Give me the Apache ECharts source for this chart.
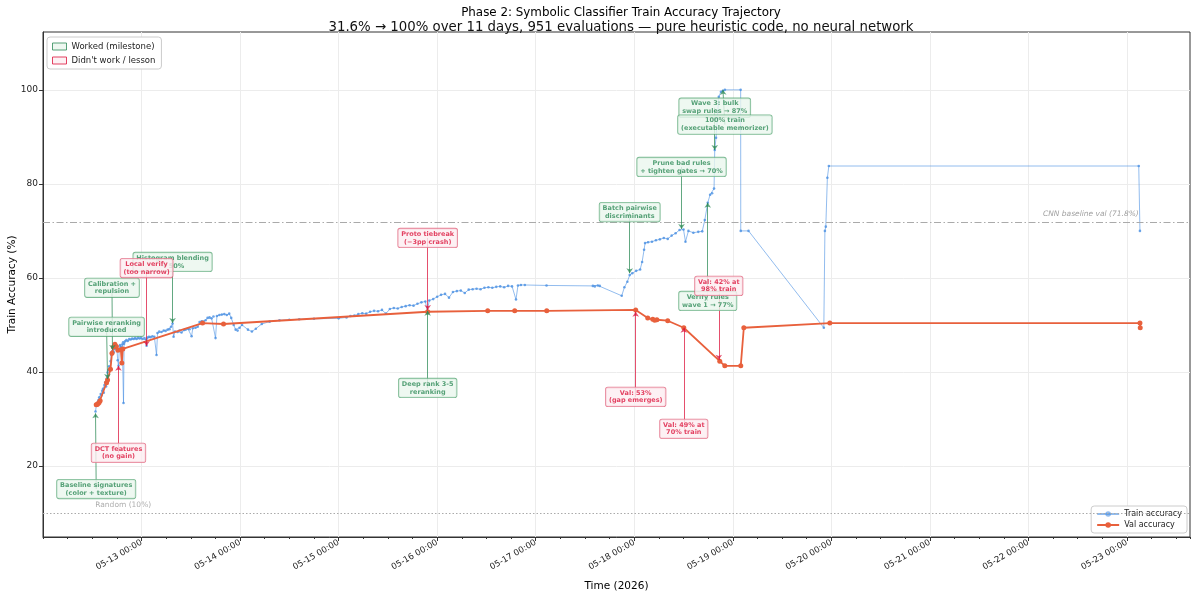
<!DOCTYPE html>
<html>
<head>
<meta charset="utf-8">
<script src="https://cdn.jsdelivr.net/npm/echarts@6/dist/echarts.min.js"></script>
<style>
html, body { margin: 0; padding: 0; background: #fff; }
#chart { width: 1200px; height: 596px; }
</style>
</head>
<body>
<div id="chart"></div>
<script>
// times are decimal days of May 2026 (UTC): 12.5 = 05-12 12:00
const trainPoints = [
  [12.533,31.6],[12.541,32.9],[12.548,33.4],[12.556,33.2],[12.563,34.0],[12.571,34.6],[12.578,34.2],[12.586,35.3],
  [12.594,35.0],[12.601,36.0],[12.609,36.4],[12.617,35.6],[12.624,37.2],[12.632,37.8],[12.640,36.9],[12.648,38.6],
  [12.655,39.9],[12.663,40.4],[12.671,41.2],[12.679,40.6],[12.686,42.3],[12.694,43.6],[12.702,44.4],[12.710,45.1],
  [12.718,44.2],[12.726,45.4],[12.734,44.9],[12.742,45.6],[12.750,45.0],[12.758,42.5],[12.766,41.3],[12.774,44.8],
  [12.782,45.7],[12.790,45.3],[12.797,44.6],[12.805,45.9],[12.813,46.3],[12.817,33.4],[12.823,46.0],[12.832,46.5],
  [12.846,46.8],[12.860,46.6],[12.875,47.0],[12.890,46.9],[12.905,47.1],[12.920,47.0],[12.935,47.2],[12.950,47.0],
  [12.965,47.3],[12.980,47.1],[12.995,47.3],[13.010,47.0],[13.030,47.2],[13.045,46.9],[13.051,45.6],[13.060,47.3],
  [13.075,47.5],[13.090,47.4],[13.110,47.6],[13.130,47.5],[13.152,43.6],[13.162,48.3],[13.180,48.6],[13.203,48.5],
  [13.225,48.8],[13.244,48.7],[13.265,49.0],[13.284,49.1],[13.300,49.6],[13.315,50.3],[13.325,47.5],[13.340,48.6],
  [13.365,48.5],[13.385,48.8],[13.406,48.4],[13.430,48.9],[13.447,49.0],[13.470,49.2],[13.487,49.1],[13.508,47.6],
  [13.520,49.3],[13.548,49.4],[13.570,49.6],[13.589,50.6],[13.610,50.8],[13.630,50.6],[13.650,51.0],[13.670,51.5],
  [13.690,51.6],[13.711,51.4],[13.730,51.8],[13.751,47.2],[13.765,51.9],[13.790,52.1],[13.815,52.2],[13.840,52.3],
  [13.865,52.1],[13.890,52.4],[13.910,51.5],[13.935,50.0],[13.955,49.0],[13.975,48.8],[13.995,49.4],[14.020,50.0],
  [14.080,49.0],[14.120,48.6],[14.160,49.2],[14.220,50.2],[14.300,50.7],[14.400,51.0],[14.500,51.1],[14.600,51.2],
  [14.750,51.3],[15.000,51.4],[15.080,51.6],[15.120,51.9],[15.160,52.0],[15.200,52.3],[15.240,52.5],[15.280,52.4],
  [15.320,52.8],[15.360,53.0],[15.400,52.9],[15.440,53.2],[15.480,52.4],[15.520,53.4],[15.560,53.6],[15.600,53.5],
  [15.640,53.8],[15.680,54.0],[15.720,54.2],[15.760,54.1],[15.800,54.5],[15.840,54.8],[15.880,55.0],[15.900,53.0],
  [15.920,55.2],[15.960,55.5],[16.000,56.0],[16.040,56.4],[16.080,56.6],[16.120,55.8],[16.160,57.0],[16.200,57.2],
  [16.240,57.3],[16.280,56.8],[16.320,57.5],[16.360,57.6],[16.400,57.7],[16.440,57.6],[16.480,57.9],[16.520,58.0],
  [16.560,57.9],[16.600,58.1],[16.640,58.2],[16.680,58.0],[16.720,58.3],[16.760,58.2],[16.800,55.4],[16.820,58.4],
  [16.850,58.5],[16.890,58.5],[17.110,58.4],[17.580,58.3],[17.600,58.2],[17.630,58.4],[17.650,58.3],[17.873,56.2],
  [17.900,58.0],[17.930,59.2],[17.954,60.6],[17.980,61.0],[18.020,61.5],[18.060,61.8],[18.080,63.4],[18.100,66.0],
  [18.110,67.4],[18.140,67.6],[18.180,67.7],[18.220,68.0],[18.260,68.2],[18.300,68.5],[18.340,68.3],[18.380,69.0],
  [18.420,69.5],[18.460,70.2],[18.500,70.3],[18.520,67.7],[18.550,70.0],[18.600,69.6],[18.650,69.8],[18.690,69.9],
  [18.716,72.3],[18.746,76.0],[18.770,77.7],[18.790,78.0],[18.810,79.0],[18.817,87.2],[18.830,89.8],[18.858,98.5],
  [18.880,99.6],[18.900,99.8],[18.920,100.0],[19.080,100.0],[19.081,70.0],[19.160,70.0],[19.924,49.4],[19.935,70.0],
  [19.944,70.9],[19.960,81.3],[19.975,83.8],[23.120,83.8],[23.132,70.0]
];

const valPoints = [
  [12.540,33.0],[12.550,33.1],[12.560,33.3],[12.570,33.5],[12.580,33.9],[12.645,37.7],[12.655,38.3],[12.685,40.6],
  [12.700,44.0],[12.715,45.3],[12.730,45.9],[12.745,45.4],[12.760,44.6],[12.790,44.7],[12.800,41.9],[12.810,44.9],
  [13.619,50.4],[13.832,50.2],[15.904,52.8],[16.513,53.0],[16.787,53.0],[17.112,53.0],[18.015,53.2],[18.137,51.5],
  [18.188,51.2],[18.208,51.0],[18.230,51.1],[18.340,50.9],[18.503,49.4],[18.868,42.3],[18.919,41.3],[19.081,41.3],
  [19.112,49.4],[19.985,50.4],[23.132,50.4],[23.135,49.4]
];

// [text, box day, box value, arrow day, arrow value, kind]
const notes = [
  ['Baseline signatures\n(color + texture)', 12.54, 15.1, 12.533, 31.2, 'ok'],
  ['Pairwise reranking\nintroduced', 12.645, 49.6, 12.655, 38.5, 'ok'],
  ['Calibration +\nrepulsion', 12.70, 57.9, 12.705, 44.7, 'ok'],
  ['Histogram blending\n→ 50%', 13.315, 63.4, 13.315, 50.4, 'ok'],
  ['Deep rank 3-5\nreranking', 15.904, 36.6, 15.904, 53.0, 'ok'],
  ['Batch pairwise\ndiscriminants', 17.954, 74.0, 17.954, 61.0, 'ok'],
  ['Prune bad rules\n+ tighten gates → 70%', 18.48, 83.6, 18.48, 70.4, 'ok'],
  ['Verify rules\nwave 1 → 77%', 18.746, 55.1, 18.746, 76.0, 'ok'],
  ['Wave 3: bulk\nswap rules → 87%', 18.817, 96.2, 18.817, 87.2, 'ok'],
  ['100% train\n(executable memorizer)', 18.92, 92.6, 18.90, 100.0, 'ok'],
  ['DCT features\n(no gain)', 12.766, 22.8, 12.766, 41.3, 'bad'],
  ['Local verify\n(too narrow)', 13.051, 62.1, 13.051, 45.5, 'bad'],
  ['Proto tiebreak\n(−3pp crash)', 15.904, 68.5, 15.904, 53.2, 'bad'],
  ['Val: 53%\n(gap emerges)', 18.015, 34.7, 18.015, 52.8, 'bad'],
  ['Val: 49% at\n70% train', 18.503, 27.9, 18.503, 49.4, 'bad'],
  ['Val: 42% at\n98% train', 18.858, 58.3, 18.858, 42.6, 'bad']
];

const randomLevel = 10;
const cnnLevel = 71.8;
const dayTicks = [13, 14, 15, 16, 17, 18, 19, 20, 21, 22, 23];
const accTicks = [20, 40, 60, 80, 100];

const DAY = 86400000;
function ms(d) { return Date.UTC(2026, 4, 1) + (d - 1) * DAY; }
function pad(n) { return (n < 10 ? '0' : '') + n; }
function fmt(v) {
  const t = new Date(v);
  return pad(t.getUTCMonth() + 1) + '-' + pad(t.getUTCDate()) + ' ' + pad(t.getUTCHours()) + ':' + pad(t.getUTCMinutes());
}

const kindStyle = {
  ok: { text: '#2e8b57', border: '#5aa877', fill: '#eaf6ee', arrow: '#2e8b57' },
  bad: { text: '#dc143c', border: '#e0607a', fill: '#fdeef1', arrow: '#dc143c' }
};

const font = 'DejaVu Sans';
const chart = echarts.init(document.getElementById('chart'));

const noteLabels = notes.map(n => {
  const s = kindStyle[n[5]];
  return {
    value: [ms(n[1]), n[2]],
    label: {
      show: true, position: 'inside', formatter: n[0], color: s.text,
      fontSize: 6.5, fontWeight: 'bold', fontFamily: font, lineHeight: 7.8, align: 'center',
      backgroundColor: s.fill, borderColor: s.border, borderWidth: 0.8, borderRadius: 2,
      padding: [2, 3, 1, 3]
    }
  };
});

const noteArrows = notes.map(n => {
  const s = kindStyle[n[5]];
  return [
    { coord: [ms(n[1]), n[2]], lineStyle: { color: s.arrow, width: 1, type: 'solid', opacity: 0.75 } },
    { coord: [ms(n[3]), n[4]] }
  ];
});

const trainData = trainPoints.map(p => [ms(p[0]), p[1]]);

chart.setOption({
  animation: false,
  textStyle: { fontFamily: font },
  title: {
    text: '{a|Phase 2: Symbolic Classifier Train Accuracy Trajectory}\n{b|31.6% → 100% over 11 days, 951 evaluations — pure heuristic code, no neural network}',
    left: 616, top: 1, textAlign: 'center',
    textStyle: {
      fontWeight: 'normal', color: '#000', fontFamily: font,
      rich: {
        a: { fontSize: 11.9, lineHeight: 14, color: '#000', fontFamily: font },
        b: { fontSize: 13.3, lineHeight: 15, color: '#111', fontFamily: font }
      }
    }
  },
  grid: {
    left: 43, right: 10, top: 32, bottom: 59, outerBoundsMode: 'none',
    show: true, borderColor: '#333', borderWidth: 1, backgroundColor: 'transparent'
  },
  legend: [
    {
      left: 47, top: 37, orient: 'vertical', itemGap: 5, itemWidth: 14, itemHeight: 7,
      backgroundColor: '#fff', borderColor: '#ccc', borderWidth: 1, borderRadius: 3, padding: [5, 6, 4, 5],
      textStyle: { fontSize: 8.5, color: '#222', fontFamily: font },
      data: [
        { name: 'Worked (milestone)', icon: 'rect', itemStyle: { color: '#eaf6ee', borderColor: '#2e8b57', borderWidth: 1 } },
        { name: "Didn't work / lesson", icon: 'rect', itemStyle: { color: '#fdeef1', borderColor: '#dc143c', borderWidth: 1 } }
      ]
    },
    {
      right: 13, bottom: 63, orient: 'vertical', itemGap: 3, itemWidth: 22, itemHeight: 7,
      backgroundColor: '#fff', borderColor: '#ccc', borderWidth: 1, borderRadius: 3, padding: [4, 5, 4, 5],
      textStyle: { fontSize: 8, color: '#222', fontFamily: font },
      data: ['Train accuracy', 'Val accuracy']
    }
  ],
  xAxis: [
    {
      type: 'value', min: ms(12), max: ms(23.64),
      name: 'Time (2026)', nameLocation: 'middle', nameGap: 44,
      nameTextStyle: { fontSize: 10.5, color: '#000' },
      axisLine: { lineStyle: { color: '#333' } },
      axisTick: { length: 4, customValues: dayTicks.map(ms), lineStyle: { color: '#333' } },
      axisLabel: { customValues: dayTicks.map(ms), rotate: 30, fontSize: 8.5, color: '#222', formatter: fmt, margin: 5 },
      splitLine: { show: true, lineStyle: { color: '#ececec', width: 1 } }
    },
    {
      type: 'value', min: ms(12), max: ms(23.64), interval: DAY / 4, position: 'bottom',
      axisLine: { show: false }, axisLabel: { show: false }, splitLine: { show: false },
      axisTick: { length: 2, lineStyle: { color: '#333' } }
    }
  ],
  yAxis: {
    type: 'value', min: 4.9, max: 112.3,
    name: 'Train Accuracy (%)', nameLocation: 'middle', nameGap: 25, nameMoveOverlap: false,
    nameTextStyle: { fontSize: 10.5, color: '#000' },
    axisLine: { show: true, lineStyle: { color: '#333' } },
    axisTick: { show: true, length: 4, customValues: accTicks, lineStyle: { color: '#333' } },
    axisLabel: { customValues: accTicks, fontSize: 9, color: '#222', margin: 5 },
    splitLine: { show: true, lineStyle: { color: '#ececec', width: 1 } }
  },
  series: [
    {
      name: 'guides', type: 'line', data: [], z: 1, silent: true,
      markLine: {
        silent: true, symbol: ['none', 'none'],
        label: { show: false },
        data: [
          { yAxis: randomLevel, lineStyle: { color: '#aaa', type: [1.5, 2], width: 1 } },
          { yAxis: cnnLevel, lineStyle: { color: '#aaa', type: [7, 2.5, 1.5, 2.5], width: 1 } }
        ]
      }
    },
    {
      name: 'Train accuracy', type: 'line', z: 3,
      data: trainData, symbol: 'none',
      lineStyle: { color: 'rgba(74,144,226,0.6)', width: 1 },
      itemStyle: { color: 'rgba(74,144,226,0.6)' }
    },
    {
      name: 'trainDots', type: 'scatter', z: 3, silent: true,
      data: trainData, symbol: 'circle', symbolSize: 2.6,
      itemStyle: { color: '#4a90e2' }
    },
    {
      name: 'Val accuracy', type: 'line', z: 4,
      data: valPoints.map(p => [ms(p[0]), p[1]]),
      symbol: 'circle', symbolSize: 5, showAllSymbol: true,
      lineStyle: { color: '#e8603c', width: 1.8 },
      itemStyle: { color: '#e8603c' }
    },
    {
      name: 'arrows', type: 'line', data: [], z: 5, silent: true,
      markLine: {
        silent: true, symbol: ['none', 'arrow'], symbolSize: 5,
        label: { show: false },
        data: noteArrows
      }
    },
    {
      name: 'notes', type: 'scatter', z: 6, silent: true, symbolSize: 0,
      data: noteLabels
    },
    {
      name: 'refText', type: 'scatter', z: 6, silent: true, symbolSize: 0,
      data: [
        { value: [ms(12.53), randomLevel + 1.6], label: { show: true, formatter: 'Random (10%)', position: 'inside', align: 'left', color: '#999', fontSize: 7.5 } },
        { value: [ms(23.12), cnnLevel + 1.7], label: { show: true, formatter: 'CNN baseline val (71.8%)', position: 'inside', align: 'right', color: '#888', fontSize: 7.5, fontStyle: 'italic' } }
      ]
    },
    { name: 'Worked (milestone)', type: 'scatter', data: [], itemStyle: { color: '#eaf6ee', borderColor: '#2e8b57' } },
    { name: "Didn't work / lesson", type: 'scatter', data: [], itemStyle: { color: '#fdeef1', borderColor: '#dc143c' } }
  ]
});
</script>
</body>
</html>
